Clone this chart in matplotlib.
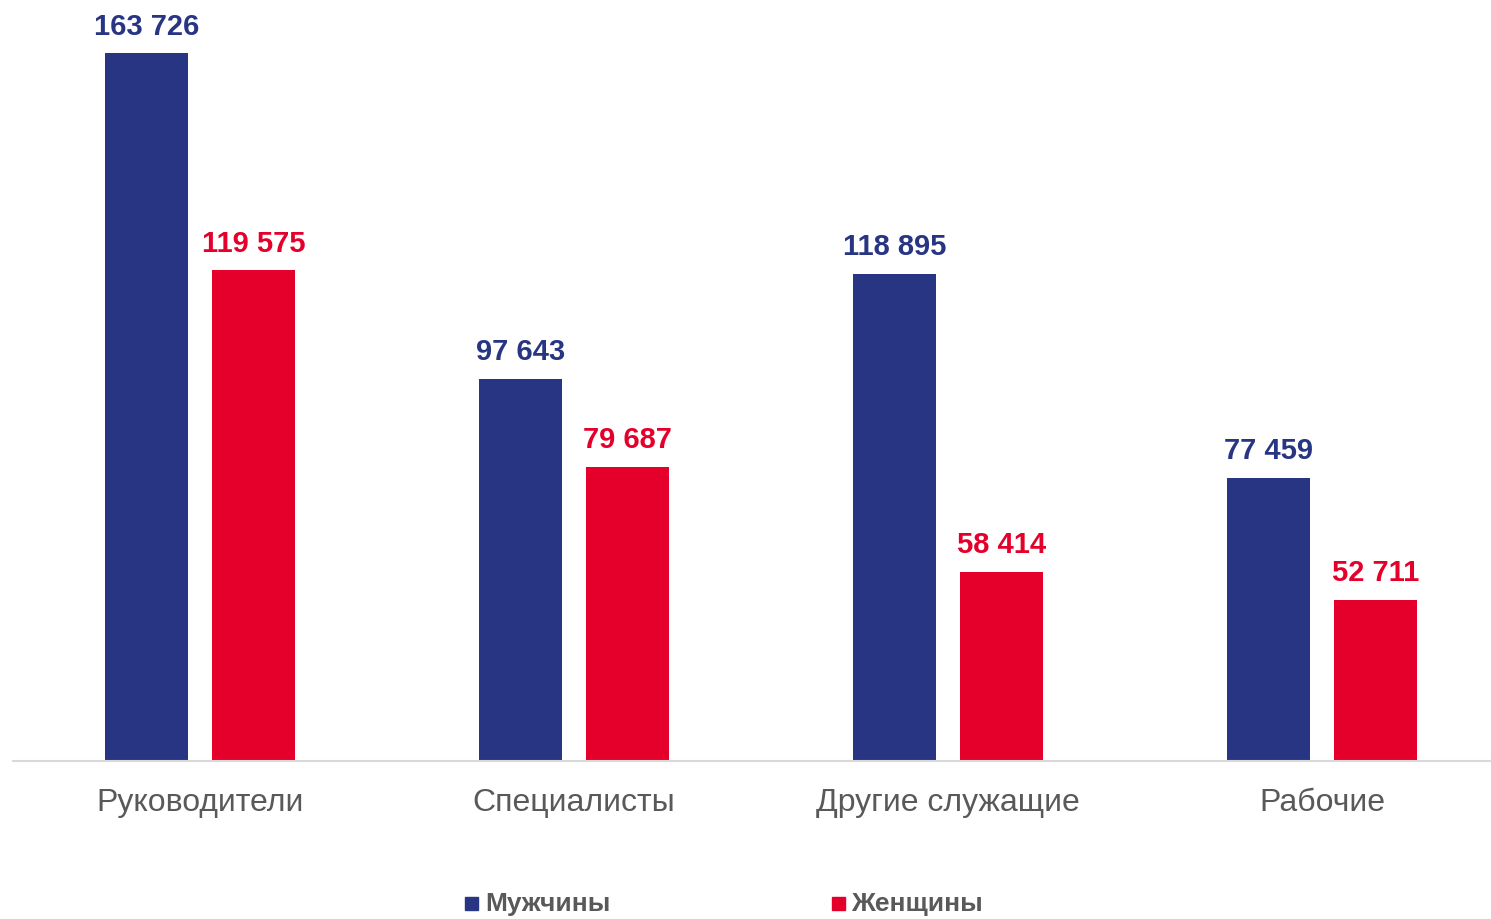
import matplotlib
matplotlib.use("Agg")
import matplotlib.pyplot as plt
from matplotlib.patches import Rectangle
import numpy as np

categories = ["Руководители", "Специалисты", "Другие служащие", "Рабочие"]
men = [163726, 97643, 118895, 77459]
women = [119575, 79687, 58414, 52711]
series_names = ["Мужчины", "Женщины"]

BLUE = "#283583"
RED = "#E4002B"
GRAY = "#595959"

plt.rcParams['font.family'] = ['Liberation Sans', 'DejaVu Sans']

W, H = 1491, 919
fig = plt.figure(figsize=(W / 100, H / 100), dpi=100)
base_px = 761
top_px = 15
ax = fig.add_axes([13 / W, (H - base_px) / H, (W - 13) / W, (base_px - top_px) / H])

ymin = 20000
scale = 708 / (163726 - ymin)  # px per unit
ymax = ymin + (base_px - top_px) / scale
ax.set_ylim(ymin, ymax)
ax.set_xlim(-0.5, (W - 200) / 374)

x = np.arange(len(categories))
bw = 83 / 374
off = 53.3 / 374
ax.bar(x - off, men, width=bw, color=BLUE, bottom=0)
ax.bar(x + off, women, width=bw, color=RED, bottom=0)

for xi, v in zip(x, men):
    ax.annotate(f"{v:,}".replace(",", " "), (xi - off, v), xytext=(0, 9), textcoords="offset points",
                ha="center", va="bottom", color=BLUE, fontsize=21, fontweight="bold")
for xi, v in zip(x, women):
    ax.annotate(f"{v:,}".replace(",", " "), (xi + off, v), xytext=(0, 9), textcoords="offset points",
                ha="center", va="bottom", color=RED, fontsize=21, fontweight="bold")

for s in ["top", "right", "left"]:
    ax.spines[s].set_visible(False)
ax.spines["bottom"].set_color("#d9d9d9")
ax.spines["bottom"].set_linewidth(1.5)
ax.set_yticks([])
ax.set_xticks(x)
ax.set_xticklabels(categories, fontsize=23, color=GRAY)
ax.tick_params(axis="x", length=0, pad=19.5)

# legend
ly = (H - 904) / H
for (sx, tx), name, col in zip([(465, 485), (832, 851)], series_names, [BLUE, RED]):
    fig.patches.append(Rectangle((sx / W, (H - 910) / H), 13 / W, 13 / H, transform=fig.transFigure,
                                 color=col, figure=fig))
    fig.text(tx / W, ly, name, fontsize=19, fontweight="bold", color=GRAY, ha="left", va="center")

fig.savefig("out.png", dpi=100)
